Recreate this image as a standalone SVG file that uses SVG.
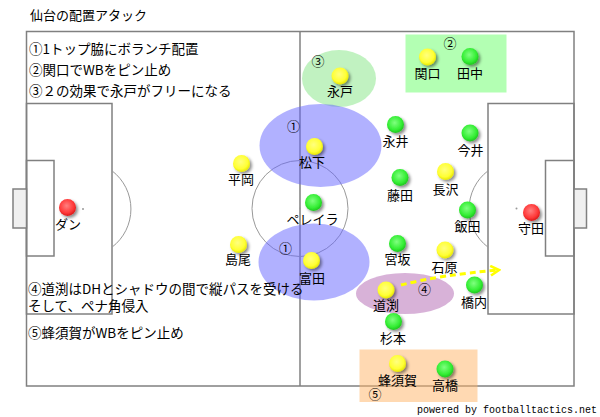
<svg xmlns="http://www.w3.org/2000/svg" width="600" height="417" viewBox="0 0 600 417">
<style>
text{font-family:"Noto Sans CJK JP","Noto Sans",sans-serif;fill:#000}
.t{font-size:13.5px}
.h{font-size:13px}
.n{font-size:13px;text-anchor:middle}
.c{font-size:13px;text-anchor:middle}
.fl{fill:none;stroke:#808080;stroke-width:1.5}
.thin{fill:none;stroke:#999;stroke-width:1}
.goal{fill:#f0f0f0;stroke:#808080;stroke-width:1.5}
.spot{fill:#999}
.y{fill:url(#gy);filter:url(#sh)}
.g{fill:url(#gg);filter:url(#sh)}
.r{fill:url(#gr);filter:url(#sh)}
.blue{fill:#6464ff;fill-opacity:0.5}
.conn{fill:none;stroke:#ffff00;stroke-width:3;stroke-dasharray:6 4}
.pw{font-family:"Liberation Mono",monospace;font-size:10px;text-anchor:end}
</style>
<defs>
<radialGradient id="gy" cx="0.45" cy="0.4" r="0.6"><stop offset="0" stop-color="#ffff80"/><stop offset="0.7" stop-color="#ffff33"/><stop offset="1" stop-color="#e6e600"/></radialGradient>
<radialGradient id="gg" cx="0.45" cy="0.4" r="0.6"><stop offset="0" stop-color="#80ff80"/><stop offset="0.7" stop-color="#33ee33"/><stop offset="1" stop-color="#1fc41f"/></radialGradient>
<radialGradient id="gr" cx="0.45" cy="0.4" r="0.6"><stop offset="0" stop-color="#ff8080"/><stop offset="0.7" stop-color="#ff3838"/><stop offset="1" stop-color="#d91a1a"/></radialGradient>
<filter id="sh" x="-50%" y="-50%" width="200%" height="200%"><feDropShadow dx="2" dy="2" stdDeviation="1.5" flood-color="#000" flood-opacity="0.45"/></filter>
<marker id="ah" viewBox="0 0 10 10" refX="8" refY="5" markerWidth="4" markerHeight="4" orient="auto" markerUnits="strokeWidth"><polyline points="1,1 8,5 1,9" fill="none" stroke="#ffff00" stroke-width="2.2"/></marker>
</defs>

<g id="field">
<rect x="26.5" y="31.5" width="547.5" height="354.5" class="fl"/>
<line x1="300" y1="31.5" x2="300" y2="386" class="fl"/>
<rect x="26.5" y="103.5" width="85.5" height="210.5" class="fl"/>
<rect x="488" y="103.5" width="86" height="210.5" class="fl"/>
<rect x="26.5" y="160.5" width="27.5" height="95.5" class="fl"/>
<rect x="545.5" y="160.5" width="28.5" height="95.5" class="fl"/>
<rect x="13" y="189" width="13.5" height="39" class="goal"/>
<rect x="574" y="189" width="12.5" height="39" class="goal"/>
<path d="M112,170.8 A48,48 0 0 1 112,247.2" class="thin"/>
<path d="M488,170.8 A48,48 0 0 0 488,247.2" class="thin"/>
<circle cx="300" cy="208.5" r="48" class="thin"/>
<circle cx="300" cy="208.5" r="1" class="spot"/>
<circle cx="83" cy="209" r="1" class="spot"/>
<circle cx="516.5" cy="208.5" r="1" class="spot"/>
</g>

<g id="zones">
<rect id="zone2" x="405.5" y="34.5" width="101" height="58" fill="#b3ffb3"/>
<ellipse id="zone3" cx="339" cy="78.5" rx="37" ry="28.5" fill="#8ee88e" fill-opacity="0.55"/>
<ellipse id="zone1a" cx="320.5" cy="145.5" rx="61" ry="41.5" class="blue"/>
<ellipse id="zone1b" cx="314" cy="262" rx="55.5" ry="38.5" class="blue"/>
<ellipse id="zone4" cx="405" cy="293.5" rx="49" ry="20.5" fill="#b872b8" fill-opacity="0.55"/>
<rect id="zone5" x="359.5" y="349.5" width="118" height="52.5" fill="#ffb366" fill-opacity="0.5"/>
<text class="c" x="450" y="47.5">②</text>
<text class="c" x="318" y="65.5">③</text>
<text class="c" x="293.5" y="131">①</text>
<text class="c" x="285.5" y="253">①</text>
<text class="c" x="424.5" y="294">④</text>
<text class="c" x="375" y="399">⑤</text>
</g>

<g id="notes">
<text class="h" x="30" y="20">仙台の配置アタック</text>
<text class="t" x="29" y="53.5">①1トップ脇にボランチ配置</text>
<text class="t" x="29" y="74.5">②関口でWBをピン止め</text>
<text class="t" x="29" y="95.5">③２の効果で永戸がフリーになる</text>
<text class="t" x="28" y="293.5" font-size="13.3">④道渕はDHとシャドウの間で縦パスを受ける</text>
<text class="t" x="28" y="310.5" font-size="13.3">そして、ペナ角侵入</text>
<text class="t" x="28" y="338">⑤蜂須賀がWBをピン止め</text>
</g>

<g id="connectors">
<path d="M401,285 Q440,275 499,270" class="conn" marker-end="url(#ah)"/>
</g>

<g id="p-nagato"><circle cx="340" cy="76" r="8.5" class="y"/><text class="n" x="340" y="96">永戸</text></g>
<g id="p-sekiguchi"><circle cx="427.5" cy="57" r="8.5" class="y"/><text class="n" x="427.5" y="78">関口</text></g>
<g id="p-tanaka"><circle cx="470" cy="56.5" r="8.5" class="g"/><text class="n" x="470" y="78">田中</text></g>
<g id="p-matsushita"><circle cx="314.5" cy="146.5" r="8.5" class="y"/><text class="n" x="312" y="167">松下</text></g>
<g id="p-nagai"><circle cx="395.5" cy="124.5" r="8.5" class="g"/><text class="n" x="395.5" y="146">永井</text></g>
<g id="p-imai"><circle cx="470" cy="133" r="8.5" class="g"/><text class="n" x="470.5" y="155">今井</text></g>
<g id="p-hiraoka"><circle cx="241.5" cy="163.5" r="8.5" class="y"/><text class="n" x="241" y="183.5">平岡</text></g>
<g id="p-fujita"><circle cx="400" cy="177.5" r="8.5" class="g"/><text class="n" x="400" y="199.5">藤田</text></g>
<g id="p-nagasawa"><circle cx="445.5" cy="171.5" r="8.5" class="y"/><text class="n" x="445.5" y="193.5">長沢</text></g>
<g id="p-pereira"><circle cx="313.5" cy="202.5" r="8.5" class="g"/><text class="n" x="312.5" y="224">ペレイラ</text></g>
<g id="p-dan"><circle cx="67.5" cy="207.5" r="8.5" class="r"/><text class="n" x="68" y="228.5">ダン</text></g>
<g id="p-iida"><circle cx="467.5" cy="210" r="8.5" class="g"/><text class="n" x="467.5" y="231">飯田</text></g>
<g id="p-morita"><circle cx="531.5" cy="212.5" r="8.5" class="r"/><text class="n" x="531" y="233">守田</text></g>
<g id="p-shimao"><circle cx="238.5" cy="244.5" r="8.5" class="y"/><text class="n" x="238" y="264">島尾</text></g>
<g id="p-miyasaka"><circle cx="397.5" cy="243.5" r="8.5" class="g"/><text class="n" x="397.5" y="263.5">宮坂</text></g>
<g id="p-ishihara"><circle cx="445" cy="250" r="8.5" class="y"/><text class="n" x="444.5" y="272">石原</text></g>
<g id="p-tomita"><circle cx="311.5" cy="260.5" r="8.5" class="y"/><text class="n" x="312" y="283">富田</text></g>
<g id="p-michibuchi"><circle cx="386" cy="290" r="8.5" class="y"/><text class="n" x="386" y="310">道渕</text></g>
<g id="p-hashiuchi"><circle cx="474.5" cy="285" r="8.5" class="g"/><text class="n" x="474" y="306.5">橋内</text></g>
<g id="p-sugimoto"><circle cx="393.5" cy="321.5" r="8.5" class="g"/><text class="n" x="393" y="343">杉本</text></g>
<g id="p-hachisuka"><circle cx="397.5" cy="363.5" r="8.5" class="y"/><text class="n" x="397.5" y="385">蜂須賀</text></g>
<g id="p-takahashi"><circle cx="445" cy="369" r="8.5" class="g"/><text class="n" x="445" y="390">高橋</text></g>

<text class="pw" x="597" y="413">powered by footballtactics.net</text>
</svg>
